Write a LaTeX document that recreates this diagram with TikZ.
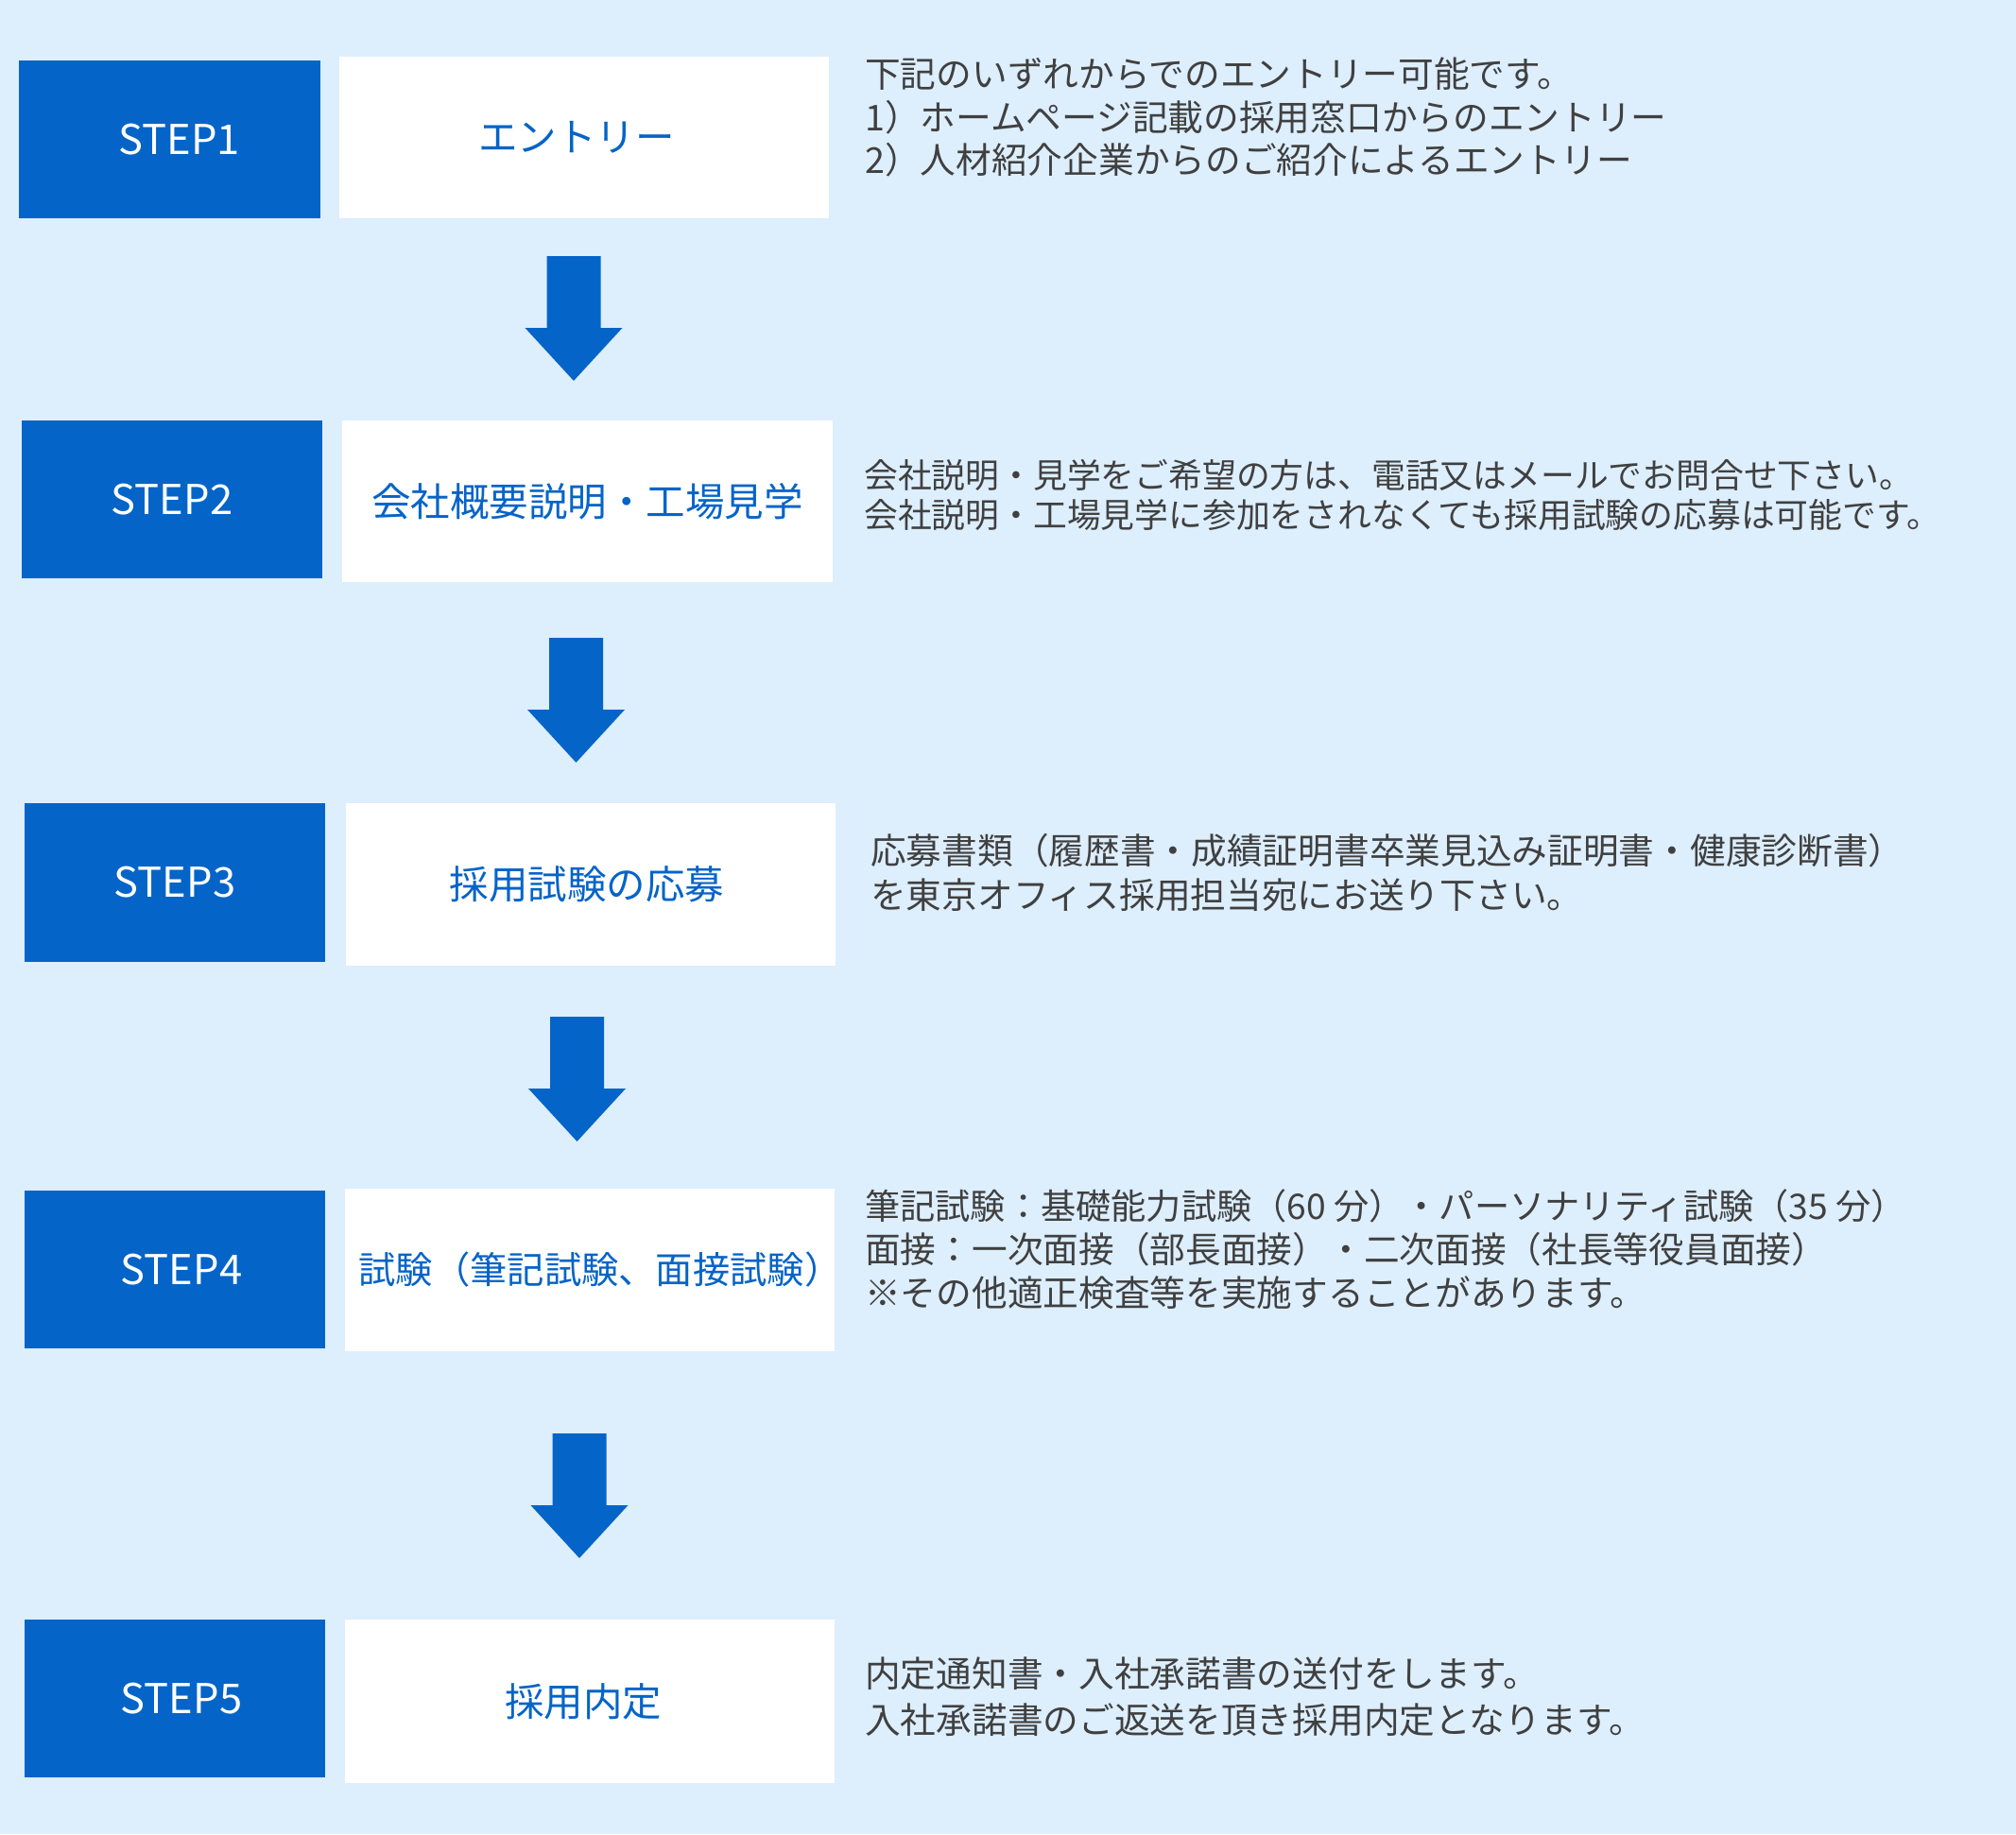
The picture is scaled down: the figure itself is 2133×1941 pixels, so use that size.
\documentclass[tikz,border=0pt]{standalone}
\usepackage{fontspec}
\setmainfont{Noto Sans CJK JP}
\definecolor{bgblue}{HTML}{DDEEFD}
\definecolor{stepblue}{HTML}{0564C8}
\definecolor{txtgray}{HTML}{404040}
\tikzset{
  stepbox/.style={rectangle, fill=stepblue, inner sep=0pt, minimum width=318pt, minimum height=167pt,
    text=white, font=\fontsize{43.5}{50}\selectfont},
  titlebox/.style={rectangle, fill=white, inner sep=0pt, minimum width=518pt, minimum height=172pt,
    text=stepblue, font=\fontsize{41.5}{50}\selectfont},
  desc/.style={anchor=base west, inner sep=0pt, text=txtgray, font=\fontsize{37.7}{46}\selectfont},
  descs/.style={anchor=base west, inner sep=0pt, text=txtgray, font=\fontsize{35.8}{42}\selectfont},
  downarrow/.pic={\fill[stepblue] (-28.5,0) -- (28.5,0) -- (28.5,76) -- (51.5,76) -- (0,132) -- (-51.5,76) -- (-28.5,76) -- cycle;}
}
\begin{document}
\begin{tikzpicture}[x=1pt,y=-1pt]
\fill[bgblue] (0,0) rectangle (2133,1941);
\useasboundingbox (0,0) rectangle (2133,1941);
% STEP 1
\node[stepbox, minimum width=319pt] (s1) at (179.5,147.5) {\hspace*{20pt}STEP1};
\node[titlebox, minimum height=171pt] (w1) at (618,145.5) {\hspace*{-16pt}エントリー};
\node[desc] (d1a) at (915,92) {下記のいずれからでのエントリー可能です。};
\node[desc] (d1b) at (915,138) {1）ホームページ記載の採用窓口からのエントリー};
\node[desc] (d1c) at (915,183) {2）人材紹介企業からのご紹介によるエントリー};
\pic at (607,271) {downarrow};
% STEP 2
\node[stepbox] (s2) at (182,528.5) {STEP2};
\node[titlebox, minimum width=519pt, minimum height=171pt] (w2) at (621.5,530.5) {会社概要説明・工場見学};
\node[descs] (d2a) at (914,516) {会社説明・見学をご希望の方は、電話又はメールでお問合せ下さい。};
\node[descs] (d2b) at (914,558) {会社説明・工場見学に参加をされなくても採用試験の応募は可能です。};
\pic at (609.5,675) {downarrow};
% STEP 3
\node[stepbox, minimum height=168pt] (s3) at (185,934) {STEP3};
\node[titlebox] (w3) at (625,936) {\hspace*{-8pt}採用試験の応募};
\node[desc] (d3a) at (921,914) {応募書類（履歴書・成績証明書卒業見込み証明書・健康診断書）};
\node[desc] (d3b) at (921,961) {を東京オフィス採用担当宛にお送り下さい。};
\pic at (610.5,1076) {downarrow};
% STEP 4
\node[stepbox] (s4) at (185,1343.5) {\hspace*{14pt}STEP4};
\node[titlebox, font=\fontsize{39.3}{46}\selectfont] (w4) at (624,1344) {試験（筆記試験、面接試験）\hspace*{-22pt}};
\node[desc, font=\fontsize{37.2}{46}\selectfont] (d4a) at (915,1290) {筆記試験：基礎能力試験（60 分）・パーソナリティ試験（35 分）};
\node[desc] (d4b) at (915,1336) {面接：一次面接（部長面接）・二次面接（社長等役員面接）};
\node[desc] (d4c) at (915,1382) {※その他適正検査等を実施することがあります。};
\pic at (613,1517) {downarrow};
% STEP 5
\node[stepbox] (s5) at (185,1797.5) {\hspace*{14pt}STEP5};
\node[titlebox, minimum height=173pt] (w5) at (624,1800.5) {\hspace*{-14pt}採用内定};
\node[desc] (d5a) at (915,1785) {内定通知書・入社承諾書の送付をします。};
\node[desc] (d5b) at (915,1834) {入社承諾書のご返送を頂き採用内定となります。};
\end{tikzpicture}
\end{document}
